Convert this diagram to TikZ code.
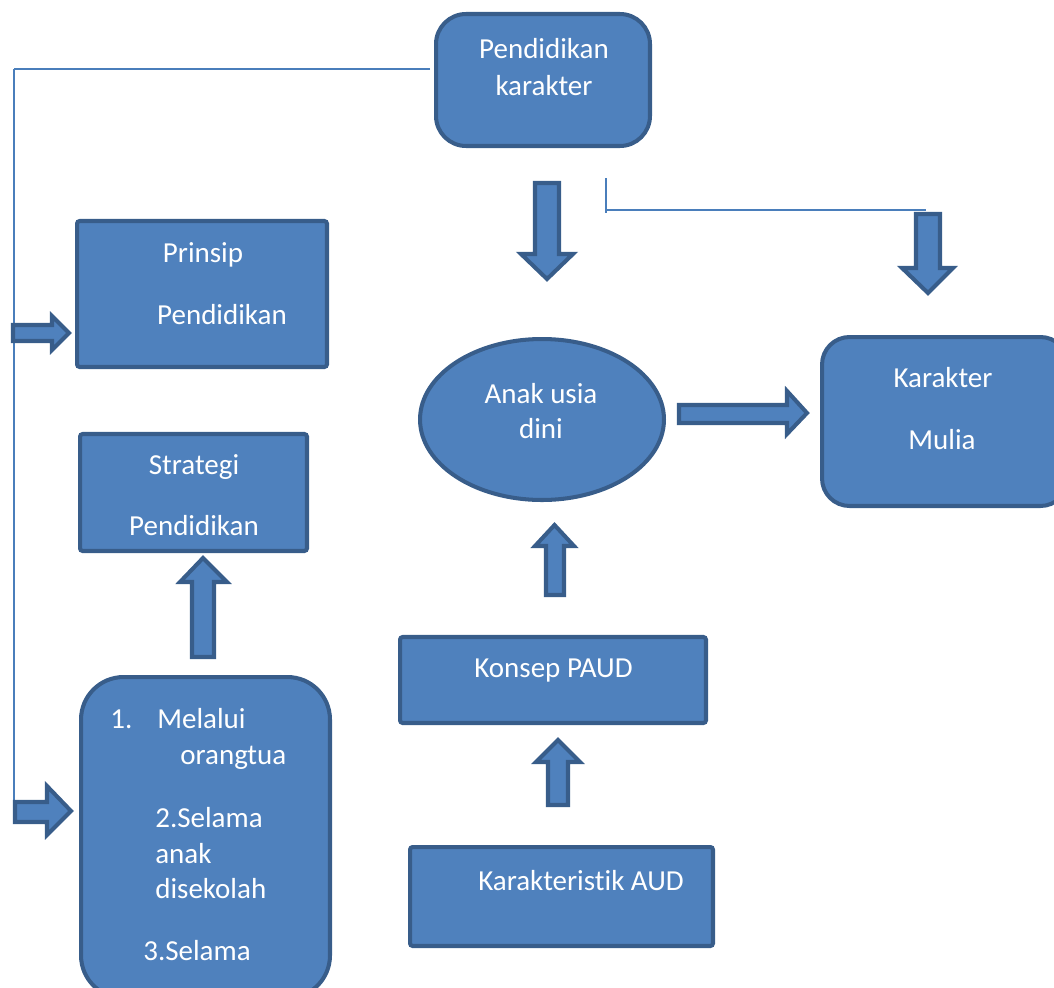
\documentclass[tikz,border=0pt]{standalone}
\usepackage{fontspec}
\setmainfont[Ligatures=NoCommon]{Carlito}
\usetikzlibrary{shapes.geometric}
\definecolor{boxfill}{HTML}{4F81BD}
\definecolor{boxline}{HTML}{385D8A}
\definecolor{thinline}{HTML}{4A7EBB}
\tikzset{
  box/.style={draw=boxline, fill=boxfill, line width=2.3pt, rounded corners=1.5pt, inner sep=0},
  roundbox/.style={box, rounded corners=#1},
  blockarr/.style={draw=boxline, fill=boxfill, line width=2.3pt, line join=miter},
  thin/.style={draw=thinline, line width=1.1pt},
  txt/.style={text=white, inner sep=0, anchor=base, font=\fontsize{16.5}{20}\selectfont},
  txtl/.style={txt, anchor=base west}
}
\begin{document}
\begin{tikzpicture}[x=0.02cm, y=-0.02cm]

        \clip (0,0) rectangle (1054,987);

        % boxes
        \node[roundbox=0.6cm, minimum width=4.28cm, minimum height=2.64cm] (pk) at (543,80) {};
        \node[box, minimum width=5.0cm, minimum height=2.92cm] (pp) at (202,294) {};
        \node[box, minimum width=4.54cm, minimum height=2.34cm] (sp) at (193.5,492.5) {};
        \node[roundbox=0.85cm, minimum width=4.98cm, minimum height=6.42cm] (mo) at (205.5,837.5) {};
        \node[box, ellipse, minimum width=4.88cm, minimum height=3.22cm] (au) at (542,419.5) {};
        \node[roundbox=0.55cm, minimum width=4.92cm, minimum height=3.38cm] (km) at (945,421.5) {};
        \node[box, minimum width=6.12cm, minimum height=1.72cm] (kp) at (553,680) {};
        \node[box, minimum width=6.06cm, minimum height=1.98cm] (ka) at (561.5,896.5) {};

        % texts
        \node[txt] (pk1) at (544,58) {Pendidikan};
        \node[txt] (pk2) at (544,95) {karakter};
        \node[txt] (pp1) at (203,262) {Prinsip};
        \node[txt] (pp2) at (222,324) {Pendidikan};
        \node[txt] (sp1) at (194,474) {Strategi};
        \node[txt] (sp2) at (194,535) {Pendidikan};
        \node[txtl] (mo1) at (110,728) {1.};
        \node[txtl] (mo2) at (157,728) {Melalui};
        \node[txtl] (mo3) at (180,764) {orangtua};
        \node[txtl] (mo4) at (155,827) {2.Selama};
        \node[txtl] (mo5) at (155,863) {anak};
        \node[txtl] (mo6) at (155,898) {disekolah};
        \node[txtl] (mo7) at (143,960) {3.Selama};
        \node[txt] (au1) at (541,403) {Anak usia};
        \node[txt] (au2) at (541,438) {dini};
        \node[txt] (km1) at (943,387) {Karakter};
        \node[txt] (km2) at (942,449) {Mulia};
        \node[txt] (kp1) at (553.5,677) {Konsep PAUD};
        \node[txt] (ka1) at (581,890) {Karakteristik AUD};

        % thin lines
        \coordinate (la) at (430,69); \coordinate (lb) at (14,69); \coordinate (lc) at (14,800);
        \coordinate (ra) at (606,178); \coordinate (rb) at (606,213);
        \coordinate (rc) at (606,210); \coordinate (rd) at (926,210);
        \draw[thin] (la) -- (lb); \draw[thin] (lb) -- (lc);
        \draw[thin] (ra) -- (rb); \draw[thin] (rc) -- (rd);

        % block arrows
        \draw[blockarr] (13,325) -- (52,325) -- (52,316) -- (69,333) -- (52,350) -- (52,341) -- (13,341) -- cycle;
        \draw[blockarr] (15,802) -- (47,802) -- (47,786) -- (71,811) -- (47,835) -- (47,822) -- (15,822) -- cycle;
        \draw[blockarr] (192,657) -- (192,582) -- (180,582) -- (203,558) -- (227,582) -- (214,582) -- (214,657) -- cycle;
        \draw[blockarr] (679,405) -- (787,405) -- (787,391) -- (807,413) -- (787,434) -- (787,423) -- (679,423) -- cycle;
        \draw[blockarr] (546,595) -- (546,546) -- (535,546) -- (554.5,525) -- (574,546) -- (564,546) -- (564,595) -- cycle;
        \draw[blockarr] (548,805) -- (548,762) -- (536,762) -- (558,740) -- (580,762) -- (568,762) -- (568,805) -- cycle;
        \draw[blockarr] (535,183) -- (535,254) -- (521,254) -- (547,279) -- (573,254) -- (559,254) -- (559,183) -- cycle;
        \draw[blockarr] (916,214) -- (916,268) -- (902,268) -- (928,293) -- (953,268) -- (940,268) -- (940,214) -- cycle;

    \end{tikzpicture}
\end{document}
